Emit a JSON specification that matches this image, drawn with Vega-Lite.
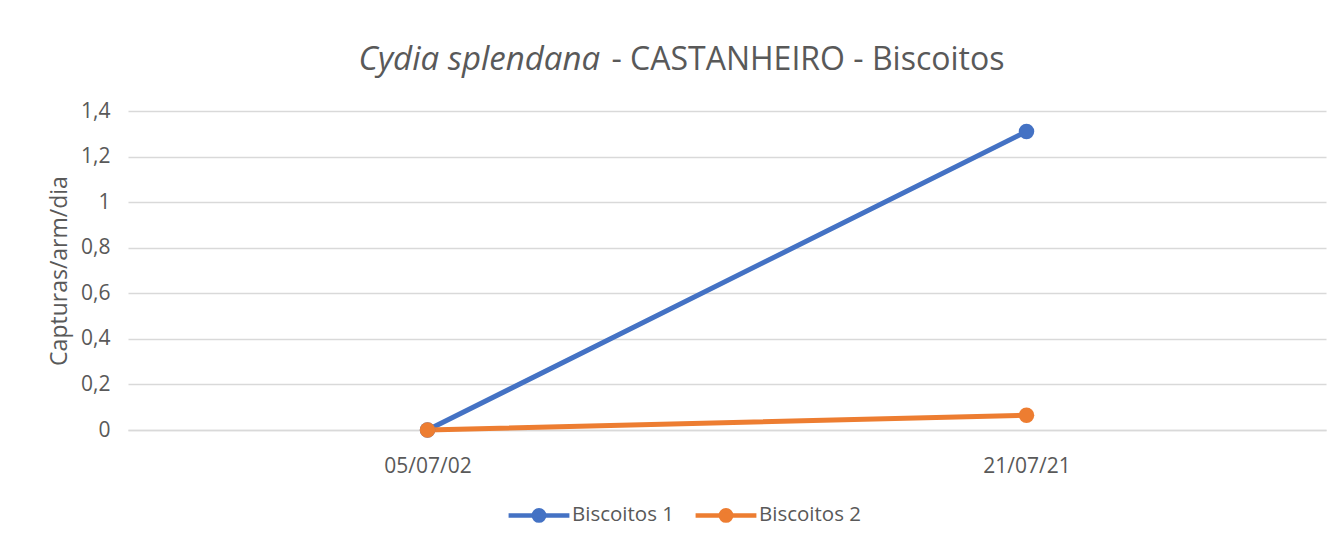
{
  "$schema": "https://vega.github.io/schema/vega-lite/v6.json",
  "width": 1198,
  "height": 319,
  "autosize": {"type": "none"},
  "padding": {"left": 128, "top": 111, "right": 18, "bottom": 114},
  "background": "white",
  "config": {
    "view": {"stroke": null},
    "font": "Open Sans",
    "axis": {"labelFont": "Open Sans", "titleFont": "Open Sans", "labelColor": "#595959", "titleColor": "#595959"}
  },
  "data": {
    "values": [
      {"date": "05/07/02", "series": "Biscoitos 1", "value": 0},
      {"date": "21/07/21", "series": "Biscoitos 1", "value": 1.31},
      {"date": "05/07/02", "series": "Biscoitos 2", "value": 0},
      {"date": "21/07/21", "series": "Biscoitos 2", "value": 0.065}
    ]
  },
  "layer": [
    {
      "mark": {"type": "line", "strokeWidth": 5, "strokeCap": "round"},
      "encoding": {
        "x": {
          "field": "date", "type": "ordinal", "sort": null,
          "scale": {"padding": 0.5},
          "axis": {
            "title": null, "labelAngle": 0, "labelFontSize": 21, "labelPadding": 25,
            "ticks": false, "domainColor": "#D9D9D9", "domainWidth": 1.3, "grid": false
          }
        },
        "y": {
          "field": "value", "type": "quantitative",
          "scale": {"domain": [0, 1.4], "nice": false},
          "axis": {
            "values": [0, 0.2, 0.4, 0.6, 0.8, 1, 1.2, 1.4],
            "labelExpr": "replace(format(datum.value, '.1~f'), '.', ',')",
            "title": "Capturas/arm/dia", "titleFontSize": 23, "titleFontWeight": "normal",
            "titlePadding": 9,
            "labelFontSize": 21, "labelPadding": 18, "ticks": false, "domain": false,
            "gridColor": "#D9D9D9", "gridWidth": 1.3
          }
        },
        "color": {
          "field": "series", "type": "nominal",
          "scale": {"domain": ["Biscoitos 1", "Biscoitos 2"], "range": ["#4472C4", "#ED7D31"]},
          "legend": {
            "title": null, "orient": "none", "direction": "horizontal",
            "legendX": 378, "legendY": 371,
            "labelFont": "Open Sans", "labelFontSize": 20.5, "labelColor": "#595959",
            "symbolType": "M-1,0H1M-0.17,0A0.17,0.17 0 1,0 0.17,0A0.17,0.17 0 1,0 -0.17,0Z",
            "symbolSize": 3700, "symbolStrokeWidth": 4.5, "symbolOpacity": 1,
            "labelOffset": 0, "columnPadding": 12,
            "encode": {"symbols": {"update": {
              "stroke": {"scale": "color", "field": "value"},
              "fill": {"scale": "color", "field": "value"}
            }}}
          }
        }
      }
    },
    {
      "mark": {"type": "point", "filled": true, "opacity": 1, "size": 240},
      "encoding": {
        "x": {
          "field": "date", "type": "ordinal", "sort": null,
          "axis": {
            "orient": "top", "labels": false, "ticks": false, "domain": false, "grid": false,
            "title": "Cydia splendana", "titleFont": "Open Sans", "titleFontSize": 33,
            "titleFontWeight": "normal", "titleFontStyle": "italic", "titleColor": "#595959",
            "titleAlign": "left", "titleAnchor": "start", "titleBaseline": "alphabetic",
            "titleX": 230, "titleY": -42
          }
        },
        "y": {
          "field": "value", "type": "quantitative",
          "axis": {
            "orient": "right", "labels": false, "ticks": false, "domain": false, "grid": false,
            "title": "- CASTANHEIRO - Biscoitos", "titleFont": "Open Sans", "titleFontSize": 32,
            "titleFontWeight": "normal", "titleColor": "#595959", "titleAngle": 0,
            "titleAlign": "left", "titleAnchor": "start", "titleBaseline": "alphabetic",
            "titleX": -715, "titleY": -42
          }
        },
        "color": {"field": "series", "type": "nominal"}
      }
    }
  ],
  "resolve": {"axis": {"x": "independent", "y": "independent"}}
}
